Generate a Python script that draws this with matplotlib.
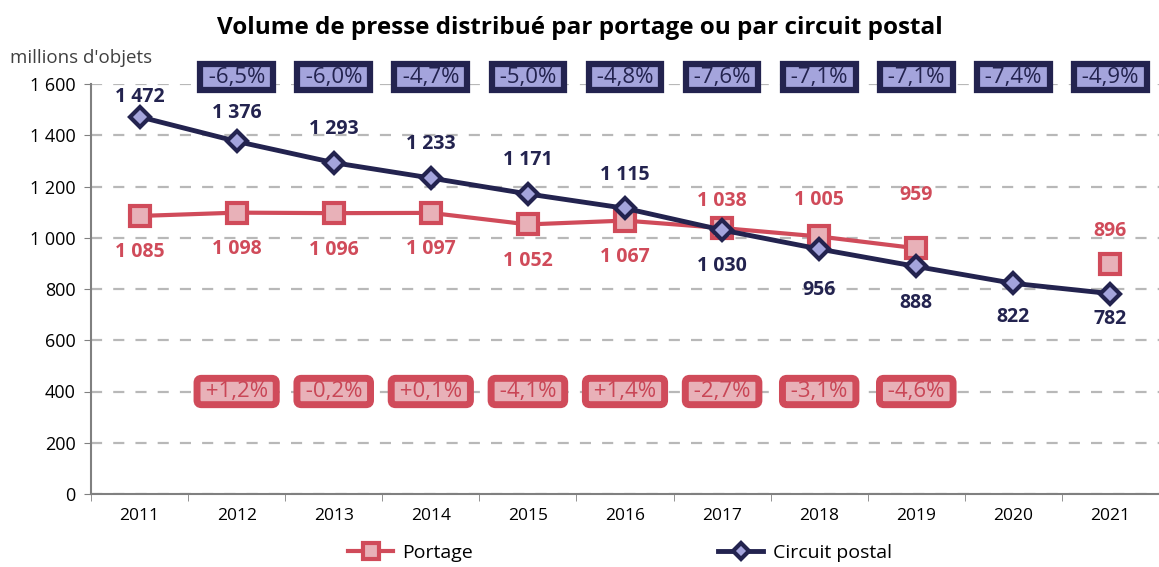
import numpy as np
import matplotlib.pyplot as plt

years = [2011, 2012, 2013, 2014, 2015, 2016, 2017, 2018, 2019, 2020, 2021]
portage = [1085, 1098, 1096, 1097, 1052, 1067, 1038, 1005, 959, np.nan, 896]
circuit = [1472, 1376, 1293, 1233, 1171, 1115, 1030, 956, 888, 822, 782]
portage_var = ['+1,2%', '-0,2%', '+0,1%', '-4,1%', '+1,4%', '-2,7%', '-3,1%', '-4,6%']
circuit_var = ['-6,5%', '-6,0%', '-4,7%', '-5,0%', '-4,8%', '-7,6%', '-7,1%', '-7,1%', '-7,4%', '-4,9%']

navy = '#23234f'
navy_fill = '#a4a4dc'
red = '#d04b5a'
red_fill = '#e8b1b8'

plt.rcParams['font.family'] = ['Open Sans', 'DejaVu Sans']

fig = plt.figure(figsize=(11.59, 5.67), dpi=100)
ax = fig.add_axes([91 / 1159, 1 - 494 / 567, 1 - 91 / 1159, 410 / 567])

x = np.arange(len(years))
ax.plot(x, portage, color=red, lw=3, marker='s', ms=14, mfc=red_fill, mec=red, mew=3, zorder=3)
ax.plot(x, circuit, color=navy, lw=3.5, marker='D', ms=10, mfc=navy_fill, mec=navy, mew=3, zorder=4)

def fmt(v):
    return f'{int(v):,}'.replace(',', ' ')

# label offsets in points (positive = above the point)
circuit_dy = [7, 13, 17, 17, 17, 17, -19, -22, -19, -17, -11]
portage_dy = [-19, -19, -19, -19, -19, -19, 12, 19, 31, 0, 17]

for i, v in enumerate(circuit):
    dy = circuit_dy[i]
    ax.annotate(fmt(v), (x[i], v), xytext=(0, dy), textcoords='offset points',
                ha='center', va='bottom' if dy > 0 else 'top',
                color=navy, fontsize=14, fontweight='bold', zorder=6)

for i, v in enumerate(portage):
    if np.isnan(v):
        continue
    dy = portage_dy[i]
    ax.annotate(fmt(v), (x[i], v), xytext=(0, dy), textcoords='offset points',
                ha='center', va='bottom' if dy > 0 else 'top',
                color=red, fontsize=14, fontweight='bold', zorder=6)

# yearly change boxes
for i, t in enumerate(circuit_var):
    ax.text(x[i + 1], 1627, ' ' + t + ' ', ha='center', va='center', color=navy, fontsize=16,
            bbox=dict(boxstyle='square,pad=0.1', fc=navy_fill, ec=navy, lw=4.5), zorder=5)

for i, t in enumerate(portage_var):
    ax.text(x[i + 1], 400, ' ' + t + ' ', ha='center', va='center', color='#c94656', fontsize=16,
            bbox=dict(boxstyle='round,pad=0.12,rounding_size=0.2', fc=red_fill, ec=red, lw=5), zorder=5)

ax.set_xlim(-0.5, len(years) - 0.57)
ax.set_ylim(0, 1600)
ax.set_yticks(range(0, 1601, 200))
ax.set_yticklabels([fmt(v) for v in range(0, 1601, 200)], fontsize=13)
ax.set_xticks(x)
ax.set_xticklabels(years, fontsize=12.5)
ax.set_xticks(np.arange(-0.5, len(years), 1), minor=True)
ax.tick_params(axis='x', which='major', length=0, pad=10)
ax.tick_params(axis='x', which='minor', length=5, color='#808080')
ax.tick_params(axis='y', length=5, color='#808080', pad=6)
ax.yaxis.grid(True, ls=(0, (5, 5)), color='#b8b8b8', lw=1.6)
ax.set_axisbelow(True)
for s in ['top', 'right']:
    ax.spines[s].set_visible(False)
ax.spines['left'].set_color('#808080')
ax.spines['bottom'].set_color('#808080')
ax.spines['left'].set_linewidth(1.5)
ax.spines['bottom'].set_linewidth(1.5)

fig.text(580 / 1159, 1 - 28 / 567, 'Volume de presse distribué par portage ou par circuit postal',
         ha='center', va='center', fontsize=17.5, fontweight='bold')
fig.text(10 / 1159, 1 - 58 / 567, "millions d'objets", ha='left', va='center', fontsize=13.5, color='#404040')

h1, = ax.plot([], [], color=red, lw=3, marker='s', ms=11, mfc=red_fill, mec=red, mew=3)
h2, = ax.plot([], [], color=navy, lw=3.5, marker='D', ms=8, mfc=navy_fill, mec=navy, mew=3)
fig.legend([h1, h2], ['Portage', 'Circuit postal'], loc='center', bbox_to_anchor=(620 / 1159, 1 - 553 / 567),
           ncol=2, frameon=False, fontsize=14, columnspacing=12.6, handlelength=2.3, handletextpad=0.5)

fig.savefig('out.png', dpi=100)
